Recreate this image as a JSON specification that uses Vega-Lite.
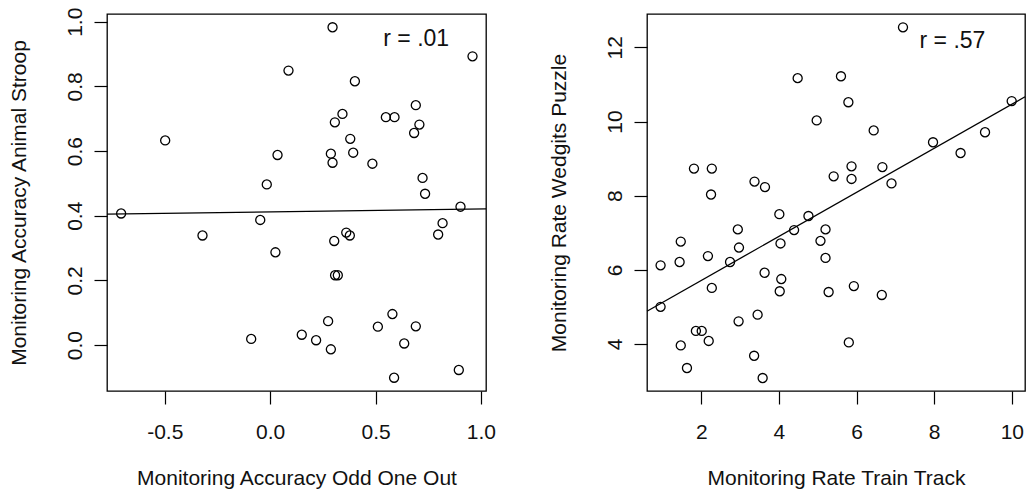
{
  "$schema": "https://vega.github.io/schema/vega-lite/v6.json",
  "padding": {"left": 7, "top": 6, "right": 0, "bottom": 0},
  "background": "white",
  "spacing": 161,
  "bounds": "flush",
  "config": {
    "view": {"stroke": "black", "strokeWidth": 1.3},
    "font": "Liberation Sans",
    "axis": {
      "domain": false,
      "grid": false,
      "ticks": true,
      "tickColor": "black",
      "tickWidth": 1.2,
      "tickSize": 13,
      "labelFont": "Liberation Sans",
      "labelFontSize": 21,
      "labelColor": "#111",
      "titleFont": "Liberation Sans",
      "titleFontSize": 21,
      "titleFontWeight": "normal",
      "titleColor": "#111",
      "labelOverlap": false,
      "labelExpr": "replace(datum.label, '\u2212', '-')"
    },
    "axisX": {"labelPadding": 17, "titlePadding": 25},
    "axisY": {"labelAngle": -90, "labelAlign": "center", "labelBaseline": "alphabetic", "labelPadding": 13, "titlePadding": 35}
  },
  "datasets": {
    "left": [
      {"x": 0.296, "y": 0.983}, {"x": 0.960, "y": 0.893}, {"x": 0.087, "y": 0.849}, {"x": 0.402, "y": 0.816},
      {"x": 0.691, "y": 0.742}, {"x": 0.343, "y": 0.715}, {"x": 0.549, "y": 0.705}, {"x": 0.590, "y": 0.705},
      {"x": 0.307, "y": 0.689}, {"x": 0.708, "y": 0.682}, {"x": -0.498, "y": 0.633}, {"x": 0.683, "y": 0.656},
      {"x": 0.380, "y": 0.638}, {"x": 0.035, "y": 0.588}, {"x": 0.288, "y": 0.592}, {"x": 0.394, "y": 0.595},
      {"x": 0.296, "y": 0.564}, {"x": 0.485, "y": 0.561}, {"x": 0.723, "y": 0.517}, {"x": -0.016, "y": 0.497},
      {"x": 0.735, "y": 0.468}, {"x": -0.707, "y": 0.407}, {"x": 0.903, "y": 0.428}, {"x": -0.047, "y": 0.387},
      {"x": 0.818, "y": 0.377}, {"x": -0.321, "y": 0.339}, {"x": 0.797, "y": 0.342}, {"x": 0.361, "y": 0.348},
      {"x": 0.378, "y": 0.339}, {"x": 0.304, "y": 0.322}, {"x": 0.025, "y": 0.287}, {"x": 0.308, "y": 0.216},
      {"x": 0.321, "y": 0.216}, {"x": 0.580, "y": 0.096}, {"x": 0.275, "y": 0.074}, {"x": 0.511, "y": 0.057},
      {"x": 0.691, "y": 0.058}, {"x": 0.150, "y": 0.032}, {"x": -0.090, "y": 0.019}, {"x": 0.218, "y": 0.015},
      {"x": 0.636, "y": 0.005}, {"x": 0.288, "y": -0.013}, {"x": 0.895, "y": -0.077}, {"x": 0.588, "y": -0.101}
    ],
    "leftLine": [{"x": -0.774, "y": 0.4051}, {"x": 1.024, "y": 0.4211}],
    "leftText": [{"x": 0.693, "y": 0.946, "label": "r = .01"}],
    "right": [
      {"x": 7.196, "y": 12.54}, {"x": 4.482, "y": 11.17}, {"x": 5.598, "y": 11.22}, {"x": 5.789, "y": 10.52},
      {"x": 9.997, "y": 10.55}, {"x": 4.972, "y": 10.03}, {"x": 6.441, "y": 9.76}, {"x": 9.31, "y": 9.71},
      {"x": 7.97, "y": 9.44}, {"x": 8.68, "y": 9.15}, {"x": 1.81, "y": 8.73}, {"x": 2.27, "y": 8.73},
      {"x": 5.87, "y": 8.79}, {"x": 6.665, "y": 8.77}, {"x": 5.41, "y": 8.52}, {"x": 5.87, "y": 8.45},
      {"x": 6.90, "y": 8.33}, {"x": 3.37, "y": 8.38}, {"x": 3.64, "y": 8.23}, {"x": 2.25, "y": 8.03},
      {"x": 4.01, "y": 7.50}, {"x": 4.76, "y": 7.45}, {"x": 2.94, "y": 7.09}, {"x": 4.39, "y": 7.07},
      {"x": 5.20, "y": 7.09}, {"x": 1.47, "y": 6.76}, {"x": 5.07, "y": 6.78}, {"x": 4.04, "y": 6.71},
      {"x": 2.97, "y": 6.60}, {"x": 2.17, "y": 6.37}, {"x": 5.20, "y": 6.32}, {"x": 0.95, "y": 6.12},
      {"x": 1.44, "y": 6.21}, {"x": 2.74, "y": 6.21}, {"x": 3.63, "y": 5.92}, {"x": 4.06, "y": 5.75},
      {"x": 2.27, "y": 5.51}, {"x": 4.02, "y": 5.42}, {"x": 5.28, "y": 5.40}, {"x": 5.93, "y": 5.56},
      {"x": 6.65, "y": 5.32}, {"x": 0.95, "y": 5.00}, {"x": 3.45, "y": 4.79}, {"x": 2.96, "y": 4.61},
      {"x": 1.86, "y": 4.35}, {"x": 2.01, "y": 4.35}, {"x": 2.19, "y": 4.08}, {"x": 1.47, "y": 3.96},
      {"x": 5.80, "y": 4.04}, {"x": 3.36, "y": 3.68}, {"x": 1.63, "y": 3.35}, {"x": 3.58, "y": 3.08}
    ],
    "rightLine": [{"x": 0.6, "y": 4.881}, {"x": 10.34, "y": 10.667}],
    "rightText": [{"x": 8.47, "y": 12.16, "label": "r = .57"}]
  },
  "hconcat": [
    {
      "width": 379,
      "height": 377,
      "layer": [
        {
          "data": {"name": "left"},
          "mark": {"type": "point", "shape": "circle", "filled": false, "color": "black", "size": 82, "strokeWidth": 1.3, "opacity": 1},
          "encoding": {
            "x": {"field": "x", "type": "quantitative", "scale": {"domain": [-0.774, 1.024], "nice": false, "zero": false},
                  "axis": {"values": [-0.5, 0, 0.5, 1], "format": ".1f", "title": "Monitoring Accuracy Odd One Out"}},
            "y": {"field": "y", "type": "quantitative", "scale": {"domain": [-0.142, 1.024], "nice": false, "zero": false},
                  "axis": {"values": [0, 0.2, 0.4, 0.6, 0.8, 1.0], "format": ".1f", "title": "Monitoring Accuracy Animal Stroop"}}
          }
        },
        {
          "data": {"name": "leftLine"},
          "mark": {"type": "line", "color": "black", "strokeWidth": 1.3},
          "encoding": {
            "x": {"field": "x", "type": "quantitative"},
            "y": {"field": "y", "type": "quantitative"}
          }
        },
        {
          "data": {"name": "leftText"},
          "mark": {"type": "text", "font": "Liberation Sans", "fontSize": 23, "color": "#111", "align": "center", "baseline": "middle"},
          "encoding": {
            "x": {"field": "x", "type": "quantitative"},
            "y": {"field": "y", "type": "quantitative"},
            "text": {"field": "label"}
          }
        }
      ]
    },
    {
      "width": 378,
      "height": 377,
      "layer": [
        {
          "data": {"name": "right"},
          "mark": {"type": "point", "shape": "circle", "filled": false, "color": "black", "size": 82, "strokeWidth": 1.3, "opacity": 1},
          "encoding": {
            "x": {"field": "x", "type": "quantitative", "scale": {"domain": [0.6, 10.34], "nice": false, "zero": false},
                  "axis": {"values": [2, 4, 6, 8, 10], "title": "Monitoring Rate Train Track"}},
            "y": {"field": "y", "type": "quantitative", "scale": {"domain": [2.73, 12.9], "nice": false, "zero": false},
                  "axis": {"values": [4, 6, 8, 10, 12], "title": "Monitoring Rate Wedgits Puzzle"}}
          }
        },
        {
          "data": {"name": "rightLine"},
          "mark": {"type": "line", "color": "black", "strokeWidth": 1.3},
          "encoding": {
            "x": {"field": "x", "type": "quantitative"},
            "y": {"field": "y", "type": "quantitative"}
          }
        },
        {
          "data": {"name": "rightText"},
          "mark": {"type": "text", "font": "Liberation Sans", "fontSize": 23, "color": "#111", "align": "center", "baseline": "middle"},
          "encoding": {
            "x": {"field": "x", "type": "quantitative"},
            "y": {"field": "y", "type": "quantitative"},
            "text": {"field": "label"}
          }
        }
      ]
    }
  ]
}
